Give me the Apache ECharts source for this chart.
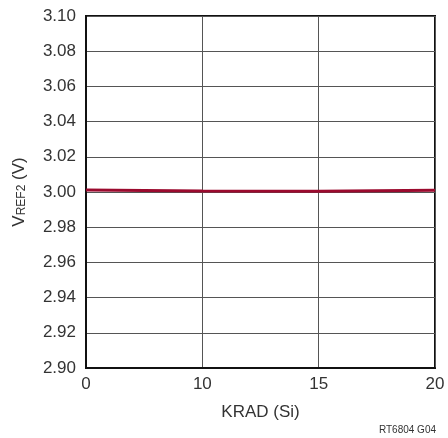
<!DOCTYPE html>
<html>
<head>
<meta charset="utf-8">
<script src="https://cdn.jsdelivr.net/npm/echarts@6/dist/echarts.min.js"></script>
<style>
  html, body { margin: 0; padding: 0; background: #fff; }
  #chart { width: 448px; height: 438px; }
</style>
</head>
<body>
<div id="chart"></div>
<script>
// Radiation dose steps (tick labels on the dose axis)
const doseLabels = ['0', '10', '15', '20'];
// VREF2 reading at each dose step, volts
const vref2 = [3.0012, 3.0005, 3.0004, 3.0010];
// Voltage axis range and step
const yMin = 2.90, yMax = 3.10, yStep = 0.02;

const FONT = '"Liberation Sans Narrow", "Liberation Sans", Arial, sans-serif';
const chart = echarts.init(document.getElementById('chart'), null, { renderer: 'canvas' });

chart.setOption({
  animation: false,
  backgroundColor: '#fff',
  grid: { left: 86, right: 13, top: 16, bottom: 70, show: true, borderColor: '#111', borderWidth: 2, backgroundColor: 'transparent' },
  xAxis: {
    type: 'category',
    data: doseLabels,
    boundaryGap: false,
    name: 'KRAD (Si)',
    nameLocation: 'middle',
    nameGap: 36,
    nameTextStyle: { fontFamily: FONT, fontSize: 17, color: '#333' },
    axisLine: { show: true, lineStyle: { color: '#111', width: 2 } },
    axisTick: { show: false },
    axisLabel: { fontFamily: FONT, fontSize: 17, color: '#333', margin: 8 },
    splitLine: { show: true, lineStyle: { color: '#555', width: 1 } }
  },
  yAxis: {
    type: 'value',
    min: yMin, max: yMax, interval: yStep,
    name: '{v|V}{sub|REF2}{v| (V)}',
    nameLocation: 'middle',
    nameGap: 58,
    nameRotate: 90,
    nameTextStyle: {
      rich: {
        v: { fontFamily: FONT, fontSize: 17, color: '#333' },
        sub: { fontFamily: FONT, fontSize: 12, color: '#333', verticalAlign: 'bottom', padding: [6, 0, 0, 0] }
      }
    },
    axisLine: { show: true, lineStyle: { color: '#111', width: 2 } },
    axisTick: { show: false },
    axisLabel: { fontFamily: FONT, fontSize: 17, color: '#333', margin: 10, formatter: v => v.toFixed(2) },
    splitLine: { show: true, lineStyle: { color: '#555', width: 1 } }
  },
  series: [{
    type: 'line',
    data: vref2,
    showSymbol: false,
    lineStyle: { color: '#9b0a2e', width: 3 },
    z: 5
  }],
  graphic: [{
    type: 'text',
    right: 12, bottom: 3,
    style: { text: 'RT6804 G04', font: '10px ' + FONT, fill: '#333' }
  }]
});
</script>
</body>
</html>
